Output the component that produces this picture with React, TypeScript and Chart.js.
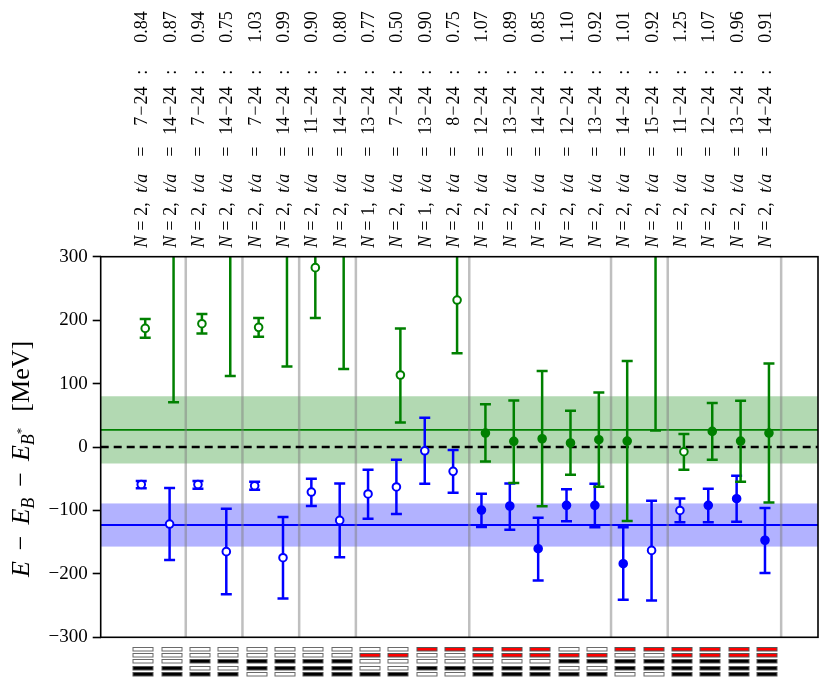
import React, { useEffect, useRef } from 'react';
import { Chart, registerables } from 'chart.js';

Chart.register(...registerables);

// fit description shown above each column
const nValues = [2, 2, 2, 2, 2, 2, 2, 2, 1, 2, 1, 2, 2, 2, 2, 2, 2, 2, 2, 2, 2, 2, 2];
const fitStart = [7, 14, 7, 14, 7, 14, 11, 14, 13, 7, 13, 8, 12, 13, 14, 12, 13, 14, 15, 11, 12, 13, 14];
const fitEnd = 24;
const chiValues = ['0.84', '0.87', '0.94', '0.75', '1.03', '0.99', '0.90', '0.80', '0.77', '0.50', '0.90', '0.75',
    '1.07', '0.89', '0.85', '1.10', '0.92', '1.01', '0.92', '1.25', '1.07', '0.96', '0.91'];

// operator basis pictogram below each column: w = unused, k = used, r = scattering operator
const operatorCodes = ['wwwkk', 'wwwkk', 'wwkwk', 'wwkwk', 'wwkkw', 'wwkkw', 'wwkkk', 'wwkkk', 'wrwwk', 'wrwwk',
    'rwwkw', 'rwwkw', 'rrwkk', 'rrwkk', 'rrwkk', 'wrkwk', 'wrkwk', 'rwkkw', 'rwkkw', 'rrkkk', 'rrkkk', 'rrkkk', 'rrkkk'];

const groupBreaks = [1.5, 3.5, 5.5, 7.5, 11.5, 16.5, 18.5, 22.5];

// ground state (blue)
const blueEnergy = [-59, -121.5, -59, -165, -61, -174.5, -71, -115.7, -74, -63, -6, -38.4,
    -99.4, -93, -160.3, -92, -92, -184, -163, -100, -92, -81.5, -147];
const blueLow = [-65.2, -178, -66, -232, -67.3, -239, -93, -174, -113, -105.7, -58, -72,
    -126, -130.4, -210.3, -117, -126.7, -240.7, -241.8, -118.8, -118.8, -117.8, -198.7];
const blueHigh = [-53.6, -64.7, -53.6, -97.3, -54.7, -110.4, -50, -57.4, -35.8, -20, 46.2, -4.8,
    -73.6, -57.4, -111.5, -66.8, -57.9, -126.7, -84.7, -81, -65.7, -45.2, -96];
const blueFilled = [false, false, false, false, false, false, false, false, false, false, false, false,
    true, true, true, true, true, true, false, false, true, true, true];

// first excited state (green)
const greenEnergy = [187, 420, 194.4, 400, 188.6, 420, 282.7, 420, null, 113.5, null, 231.7,
    22, 8.9, 13, 6.3, 11.5, 9.4, 330, -7.4, 24.6, 9.4, 22];
const greenLow = [172.3, 70.4, 179, 112, 174, 127, 203.4, 123, null, 38.8, null, 147.6,
    -22.7, -56.8, -93.6, -43.7, -62.6, -116.7, 26.2, -35.8, -20, -54.7, -87.3];
const greenHigh = [201.8, 770, 209.7, 688, 203.4, 713, 362, 717, null, 187, null, 316,
    67.2, 73.5, 120, 57.2, 86, 135.5, 634, 20.4, 69.3, 73, 131.8];
const greenFilled = [false, false, false, false, false, false, false, false, false, false, false, false,
    true, true, true, true, true, true, true, false, true, true, true];

const greenFit = 27;
const greenFitLow = -26;
const greenFitHigh = 80;
const blueFit = -123;
const blueFitLow = -157;
const blueFitHigh = -89;

const FONT = "'Liberation Serif', 'DejaVu Serif', serif";
const SHIFT = 0.07;

const series = [
    { energy: blueEnergy, low: blueLow, high: blueHigh, filled: blueFilled, color: '#0000ff', shift: -SHIFT },
    { energy: greenEnergy, low: greenLow, high: greenHigh, filled: greenFilled, color: '#008000', shift: SHIFT },
];

type Run = { t: string; size: number; italic?: boolean; dy?: number; gap?: number };

function drawRuns(ctx: CanvasRenderingContext2D, runs: Run[], start: number) {
    let d = start;
    runs.forEach(r => {
        d += r.gap || 0;
        ctx.font = `${r.italic ? 'italic ' : ''}${r.size}px ${FONT}`;
        ctx.fillText(r.t, d, r.dy || 0);
        d += ctx.measureText(r.t).width;
    });
}

function runsWidth(ctx: CanvasRenderingContext2D, runs: Run[]) {
    let w = 0;
    runs.forEach(r => {
        ctx.font = `${r.italic ? 'italic ' : ''}${r.size}px ${FONT}`;
        w += (r.gap || 0) + ctx.measureText(r.t).width;
    });
    return w;
}

const decorPlugin = {
    id: 'decor',
    beforeDatasetsDraw(chart: any) {
        const { ctx, chartArea: a, scales } = chart;
        const x = scales.x;
        const y = scales.y;
        ctx.save();
        ctx.beginPath();
        ctx.rect(a.left, a.top, a.right - a.left, a.bottom - a.top);
        ctx.clip();

        const band = (lo: number, hi: number, mid: number, fill: string, stroke: string) => {
            ctx.fillStyle = fill;
            const top = y.getPixelForValue(hi);
            ctx.fillRect(a.left, top, a.right - a.left, y.getPixelForValue(lo) - top);
            ctx.strokeStyle = stroke;
            ctx.lineWidth = 1.8;
            ctx.beginPath();
            ctx.moveTo(a.left, y.getPixelForValue(mid));
            ctx.lineTo(a.right, y.getPixelForValue(mid));
            ctx.stroke();
        };
        band(greenFitLow, greenFitHigh, greenFit, 'rgba(0,128,0,0.3)', '#008000');
        band(blueFitLow, blueFitHigh, blueFit, 'rgba(0,0,255,0.3)', '#0000ff');

        ctx.strokeStyle = 'rgba(128,128,128,0.5)';
        ctx.lineWidth = 2.5;
        groupBreaks.forEach(b => {
            const px = x.getPixelForValue(b);
            ctx.beginPath();
            ctx.moveTo(px, a.top);
            ctx.lineTo(px, a.bottom);
            ctx.stroke();
        });

        ctx.strokeStyle = 'black';
        ctx.lineWidth = 2.6;
        ctx.setLineDash([8, 5]);
        ctx.beginPath();
        ctx.moveTo(a.left, y.getPixelForValue(0));
        ctx.lineTo(a.right, y.getPixelForValue(0));
        ctx.stroke();
        ctx.setLineDash([]);

        ctx.lineWidth = 2.5;
        series.forEach(s => {
            ctx.strokeStyle = s.color;
            s.low.forEach((lo, i) => {
                const hi = s.high[i];
                if (lo === null || hi === null) return;
                const px = x.getPixelForValue(i + s.shift);
                const p1 = y.getPixelForValue(lo);
                const p2 = y.getPixelForValue(hi);
                ctx.beginPath();
                ctx.moveTo(px, p1);
                ctx.lineTo(px, p2);
                ctx.moveTo(px - 5.5, p1);
                ctx.lineTo(px + 5.5, p1);
                ctx.moveTo(px - 5.5, p2);
                ctx.lineTo(px + 5.5, p2);
                ctx.stroke();
            });
        });
        ctx.restore();
    },
    afterDatasetsDraw(chart: any) {
        const { ctx, chartArea: a } = chart;
        ctx.save();
        ctx.strokeStyle = 'black';
        ctx.lineWidth = 1.6;
        ctx.strokeRect(a.left, a.top, a.right - a.left, a.bottom - a.top);
        ctx.restore();
    },
    afterDraw(chart: any) {
        const { ctx, chartArea: a, scales } = chart;
        const x = scales.x;
        ctx.save();
        ctx.fillStyle = 'black';
        ctx.textBaseline = 'alphabetic';
        ctx.textAlign = 'left';

        // fit labels above the plot
        const fs = 18;
        nValues.forEach((n, i) => {
            const px = x.getPixelForValue(i);
            ctx.save();
            ctx.translate(px + 4, a.top - 9);
            ctx.rotate(-Math.PI / 2);
            drawRuns(ctx, [{ t: 'N', size: fs, italic: true }], 0);
            drawRuns(ctx, [{ t: '=', size: fs }], 17);
            drawRuns(ctx, [{ t: `${n},`, size: fs }], 32);
            drawRuns(ctx, [{ t: 't/a', size: fs, italic: true }], 55);
            drawRuns(ctx, [{ t: '=', size: fs }], 91);
            ctx.font = `${fs}px ${FONT}`;
            const sw = ctx.measureText(String(fitStart[i])).width;
            ctx.fillText(String(fitStart[i]), 131 - sw, 0);
            drawRuns(ctx, [{ t: '\u2212', size: fs }, { t: String(fitEnd), size: fs, gap: 1 }], 132);
            drawRuns(ctx, [{ t: ':', size: fs }], 173);
            drawRuns(ctx, [{ t: chiValues[i], size: fs }], 205);
            ctx.restore();
        });

        // operator pictograms below the plot
        operatorCodes.forEach((code, i) => {
            const px = Math.round(x.getPixelForValue(i));
            code.split('').forEach((c, r) => {
                const top = Math.round(a.bottom + 9.5 + r * 6.3) + 0.5;
                ctx.fillStyle = c === 'r' ? '#ff0000' : c === 'k' ? '#000000' : '#ffffff';
                ctx.fillRect(px - 10, top, 20, 3.5);
                ctx.strokeStyle = c === 'w' ? '#6a6a6a' : '#555555';
                ctx.lineWidth = 1;
                ctx.strokeRect(px - 10, top, 20, 3.5);
            });
        });

        // y axis title with subscripts
        ctx.fillStyle = 'black';
        const runs: Run[] = [
            { t: 'E', size: 26, italic: true },
            { t: '\u2212', size: 26, gap: 11 },
            { t: 'E', size: 26, italic: true, gap: 11 },
            { t: 'B', size: 18, italic: true, dy: 5 },
            { t: '\u2212', size: 26, gap: 11 },
            { t: 'E', size: 26, italic: true, gap: 11 },
            { t: 'B', size: 18, italic: true, dy: 5 },
            { t: '*', size: 13, dy: -4 },
            { t: '[MeV]', size: 26, gap: 16 },
        ];
        ctx.save();
        ctx.translate(29, 459);
        ctx.rotate(-Math.PI / 2);
        drawRuns(ctx, runs, -runsWidth(ctx, runs) / 2);
        ctx.restore();

        ctx.restore();
    },
};

const App: React.FC = () => {
    const canvasRef = useRef<HTMLCanvasElement | null>(null);

    useEffect(() => {
        if (!canvasRef.current) return;
        const chart = new Chart(canvasRef.current, {
            type: 'scatter',
            data: {
                datasets: series.map(s => ({
                    data: s.energy.map((v, i) => ({ x: i + s.shift, y: v })),
                    pointRadius: 3.8,
                    pointHoverRadius: 3.8,
                    pointBorderWidth: 2,
                    pointBorderColor: s.color,
                    pointBackgroundColor: s.filled.map(f => (f ? s.color : '#ffffff')),
                    showLine: false,
                })),
            },
            options: {
                responsive: true,
                maintainAspectRatio: false,
                animation: false,
                events: [],
                layout: { padding: { right: 13 } },
                plugins: { legend: { display: false }, tooltip: { enabled: false } },
                scales: {
                    x: {
                        type: 'linear',
                        position: 'bottom',
                        min: -1.5,
                        max: 23.8,
                        ticks: { display: false },
                        grid: { display: false },
                        border: { display: false },
                        afterFit: (s: any) => { s.height = 50.7; },
                    },
                    xTop: {
                        type: 'linear',
                        position: 'top',
                        min: -1.5,
                        max: 23.8,
                        ticks: { display: false },
                        grid: { display: false },
                        border: { display: false },
                        afterFit: (s: any) => { s.height = 256.7; },
                    },
                    y: {
                        type: 'linear',
                        min: -300,
                        max: 300,
                        ticks: {
                            stepSize: 100,
                            color: 'black',
                            padding: 5,
                            font: { family: FONT, size: 19 },
                            callback: (v: any) => (Number(v) < 0 ? '\u2212' + Math.abs(Number(v)) : String(v)),
                        },
                        grid: {
                            drawOnChartArea: false,
                            drawTicks: true,
                            tickLength: 8,
                            tickWidth: 1.6,
                            tickColor: 'black',
                        },
                        border: { display: false },
                        afterFit: (s: any) => { s.width = 100.7; },
                    },
                },
            },
            plugins: [decorPlugin],
        });
        return () => chart.destroy();
    }, []);

    return (
        <div style={{ position: 'fixed', left: 0, top: 0, width: 831, height: 688, background: 'white' }}>
            <canvas ref={canvasRef} />
        </div>
    );
};

export default App;
